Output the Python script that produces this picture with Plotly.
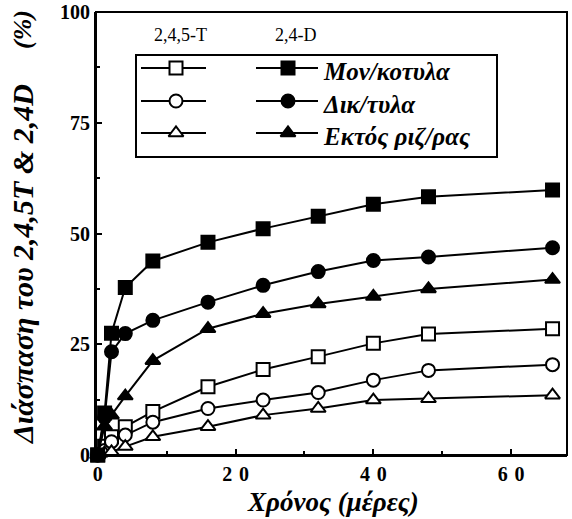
import plotly.graph_objects as go

# ---- data ----
days = [0, 1, 2, 4, 8, 16, 24, 32, 40, 48, 66]

d24_mono = [0, 9.5, 27.5, 37.8, 43.8, 48.0, 51.1, 53.9, 56.6, 58.3, 59.8]
d24_di = [0, 8.5, 23.3, 27.4, 30.4, 34.5, 38.3, 41.4, 43.9, 44.7, 46.8]
d24_ecto = [0, 6.5, 9.0, 13.3, 21.3, 28.5, 31.9, 34.1, 35.8, 37.5, 39.6]

t245_mono = [0, 2.0, 4.1, 6.4, 9.8, 15.4, 19.3, 22.2, 25.2, 27.3, 28.5]
t245_di = [0, 1.0, 3.0, 4.5, 7.4, 10.5, 12.4, 14.1, 16.9, 19.1, 20.4]
t245_ecto = [0, 0.5, 0.7, 1.9, 4.1, 6.4, 9.0, 10.5, 12.4, 12.7, 13.5]

x_tickvals = [0, 20, 40, 60]
x_ticktext = ["0", "2\u20040", "4\u20040", "6\u20040"]
y_tickvals = [0, 25, 50, 75, 100]
y_ticktext = ["0", "25", "50", "75", "100"]

legend_names = ["Μον/κοτυλα", "Δικ/τυλα", "Εκτός ριζ/ρας"]
group_headers = ["2,4,5-T", "2,4-D"]

x_title = "Χρόνος (μέρες)"
y_title = "Διάσπαση του 2,4,5T & 2,4D"
y_unit = "(%)"

SERIF = "Liberation Serif"
MS = 13

# plot-area geometry in pixels
L, R, T, B = 96, 567, 12, 455
W, H = 572, 519


def px_x(p):
    return (p - L) / (R - L)


def px_y(p):
    return (B - p) / (B - T)


fig = go.Figure()

series = [
    (t245_mono, "square", "white"),
    (t245_di, "circle", "white"),
    (t245_ecto, "triangle-up", "white"),
    (d24_mono, "square", "black"),
    (d24_di, "circle", "black"),
    (d24_ecto, "triangle-up", "black"),
]
for vals, sym, fill in series:
    fig.add_trace(go.Scatter(
        x=days, y=vals, mode="lines+markers",
        line=dict(color="black", width=2),
        marker=dict(symbol=sym, size=MS, color=fill,
                    line=dict(color="black", width=2)),
        cliponaxis=False, showlegend=False, hoverinfo="skip"))

# ---- hand-made legend on an overlay axis measured in pixels ----
row_y = [68, 101, 133]
cols = [(141, 176, 206, "white"), (256, 288, 318, "black")]
syms = ["square", "circle", "triangle-up"]
for (x0, xm, x1, fill) in cols:
    for ry, sym in zip(row_y, syms):
        fig.add_trace(go.Scatter(
            x=[x0, x1], y=[ry, ry], mode="lines", xaxis="x2", yaxis="y2",
            line=dict(color="black", width=2), showlegend=False, hoverinfo="skip"))
        fig.add_trace(go.Scatter(
            x=[xm], y=[ry], mode="markers", xaxis="x2", yaxis="y2",
            marker=dict(symbol=sym, size=MS, color=fill, line=dict(color="black", width=2)),
            showlegend=False, hoverinfo="skip", cliponaxis=False))

annotations = []
for name, ry in zip(legend_names, row_y):
    annotations.append(dict(
        x=px_x(321), y=px_y(ry + 3), xref="paper", yref="paper",
        text="<b><i>" + name + "</i></b>",
        showarrow=False, xanchor="left", yanchor="middle",
        font=dict(family=SERIF, size=25, color="black")))
for hdr, hx in zip(group_headers, [180, 296]):
    annotations.append(dict(
        x=px_x(hx), y=px_y(35), xref="paper", yref="paper", text=hdr, showarrow=False,
        xanchor="center", yanchor="middle",
        font=dict(family=SERIF, size=18, color="black")))
annotations.append(dict(
    x=px_x(333), y=px_y(502), xref="paper", yref="paper",
    text="<b><i>" + x_title + "</i></b>",
    showarrow=False, xanchor="center", yanchor="middle",
    font=dict(family=SERIF, size=27, color="black")))
annotations.append(dict(
    x=px_x(22), y=px_y(264), xref="paper", yref="paper",
    text="<b><i>" + y_title + "</i></b>",
    showarrow=False, xanchor="center", yanchor="middle", textangle=-90,
    font=dict(family=SERIF, size=30, color="black")))
annotations.append(dict(
    x=px_x(23), y=px_y(30), xref="paper", yref="paper",
    text="<b><i>" + y_unit + "</i></b>",
    showarrow=False, xanchor="center", yanchor="middle", textangle=-90,
    font=dict(family=SERIF, size=26, color="black")))

shapes = [
    dict(type="rect", xref="paper", yref="paper",
         x0=px_x(136), x1=px_x(497), y0=px_y(55), y1=px_y(157),
         line=dict(color="black", width=2), fillcolor="rgba(0,0,0,0)"),
    dict(type="rect", xref="paper", yref="paper", x0=0, x1=1, y0=0, y1=1,
         line=dict(color="black", width=2), fillcolor="rgba(0,0,0,0)"),
]

fig.update_layout(
    template="none",
    width=W, height=H,
    margin=dict(l=L, r=W - R, t=T, b=H - B, autoexpand=False),
    paper_bgcolor="white", plot_bgcolor="white",
    showlegend=False,
    annotations=annotations, shapes=shapes,
    xaxis=dict(range=[-0.25, 68.1], tickvals=x_tickvals, ticktext=x_ticktext,
               ticks="inside", ticklen=6, tickwidth=2, tickcolor="black",
               showline=True, linewidth=2, linecolor="black", mirror=False,
               showgrid=False, zeroline=False, automargin=False,
               minor=dict(tickvals=[10, 30, 50], ticks="inside", ticklen=4,
                          tickwidth=2, tickcolor="black"),
               tickfont=dict(family=SERIF, size=20, color="black", weight="bold")),
    yaxis=dict(range=[0, 100], tickvals=y_tickvals, ticktext=y_ticktext,
               ticks="inside", ticklen=6, tickwidth=2, tickcolor="black",
               showline=True, linewidth=2, linecolor="black", mirror=False,
               showgrid=False, zeroline=False, automargin=False,
               minor=dict(tickvals=[12.5, 37.5, 62.5, 87.5], ticks="inside", ticklen=4,
                          tickwidth=2, tickcolor="black"),
               tickfont=dict(family=SERIF, size=20, color="black", weight="bold")),
    xaxis2=dict(range=[L, R], overlaying="x", visible=False, fixedrange=True,
                automargin=False),
    yaxis2=dict(range=[B, T], overlaying="y", visible=False, fixedrange=True,
                automargin=False),
)

fig.write_html("out.html",
               config={"displayModeBar": False},
               post_script="document.body.style.margin='0';document.body.style.overflow='hidden';")
